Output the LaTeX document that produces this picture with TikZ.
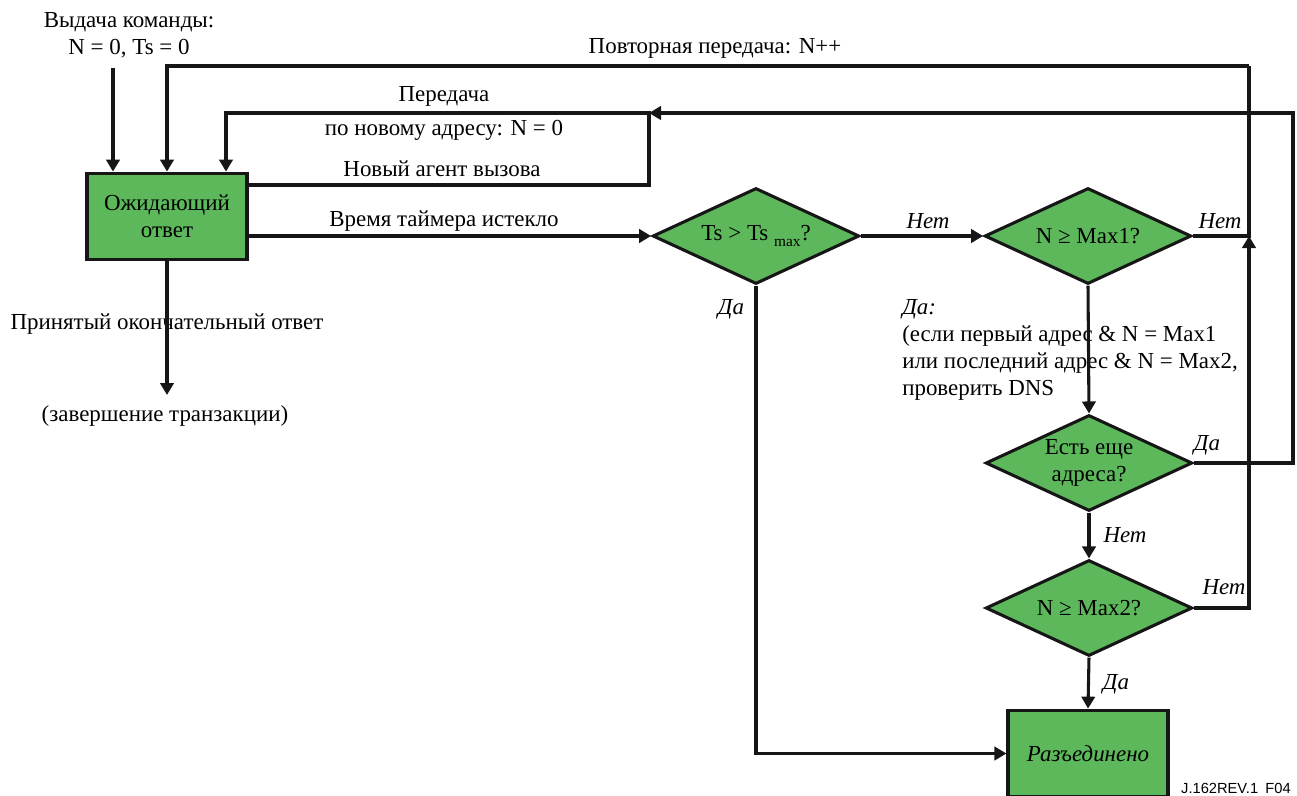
\documentclass[tikz,border=0pt]{standalone}
\usepackage{fontspec}
\setmainfont{Liberation Serif}
\newfontfamily\tagfont{Liberation Sans}
\usepackage{xcolor}
\definecolor{cFill}{HTML}{5CB85B}
\definecolor{cLine}{HTML}{161616}
\usetikzlibrary{positioning,arrows.meta,shapes.geometric,calc}
\newcommand{\lblfont}{\fontsize{17.2}{20.3}\selectfont}
\tikzset{
  node-box/.style={draw=cLine,line width=2.3pt,fill=cFill,minimum width=120pt,
    minimum height=65pt,inner sep=0pt,align=center,font=\lblfont},
  node-dec/.style={diamond,draw=cLine,line width=2.3pt,fill=cFill,aspect=2.15,
    minimum width=155pt,minimum height=72pt,inner sep=0pt,align=center,font=\lblfont},
  node-txt/.style={inner sep=0pt,align=center,font=\lblfont},
  node-yn/.style={inner sep=0pt,font=\lblfont\itshape},
  arrow/.style={-{Triangle[length=9pt,width=10pt]},line width=2.3pt,draw=cLine},
  line/.style={line width=2.3pt,draw=cLine},
}

\begin{document}
\begin{tikzpicture}[x=0.75pt,y=-0.75pt]
  \useasboundingbox (0,0) rectangle (1297,796);
  \clip (0,0) rectangle (1297,796);
  % boxes and decisions
  \node[node-box] (wait) at (167,216.5) {Ожидающий\\ответ};
  \node[node-dec] (ts)   at (756,236) {Ts > Ts \raisebox{-0.5ex}{\fontsize{11.5}{11.5}\selectfont max}?};
  \node[node-dec] (max1) at (1088,236) {N ≥ Max1?};
  \node[node-dec] (more) at (1089,463) {Есть еще\\адреса?};
  \node[node-dec] (max2) at (1089,608) {N ≥ Max2?};
  \node[node-box] (bye)  at (1088,753.5) {\itshape Разъединено};
  % free texts
  \node[node-txt] (cmd)  at (129,35) {Выдача команды:\\N = 0, Ts = 0};
  \node[node-txt] (done) at (167,324) {Принятый окончательный ответ};
  \node[node-txt] (end)  at (165,416) {(завершение транзакции)};
  \node[node-txt] (rep)  at (715,48) {Повторная передача: N++};
  \node[node-txt] (tr1)  at (444,96) {Передача};
  \node[node-txt] (tr2)  at (444,130) {по новому адресу: N = 0};
  \node[node-txt] (nag)  at (442,169) {Новый агент вызова};
  \node[node-txt] (tmo)  at (444,221) {Время таймера истекло};
  \node[node-txt,anchor=north west,align=left] (dns) at (902,299)
    {\textit{Да:}\\(если первый адрес \& N = Max1\\или последний адрес \& N = Max2,\\проверить DNS};
  \node[node-yn] (n1) at (928,221) {Нет};
  \node[node-yn] (n2) at (1220,221) {Нет};
  \node[node-yn] (y1) at (731,309) {Да};
  \node[node-yn] (y2) at (1207,445) {Да};
  \node[node-yn] (n3) at (1125,535) {Нет};
  \node[node-yn] (n4) at (1224,587) {Нет};
  \node[node-yn] (y3) at (1116,684) {Да};
  \node[inner sep=0pt,font=\tagfont\fontsize{11}{11}\selectfont] (tag) at (1236,788) {J.162REV.1\enspace F04};
  % routing points
  \coordinate (start) at (113,68);
  \coordinate (fin)   at (167,395);
  \coordinate (rtR)   at (1249,66);
  \coordinate (rtL)   at (167,66);
  \coordinate (naS)   at (247,185);
  \coordinate (naR)   at (649,113);
  \coordinate (naL)   at (226,113);
  \coordinate (mrR)   at (1293,113);
  % connectors
  \draw[arrow] (start) -- (start |- wait.north);
  \draw[arrow] (wait.south) -- (fin);
  \draw[arrow] (ts.west -| wait.east) -- (ts.west);
  \draw[arrow] (ts.east) -- (max1.west);
  \draw[arrow] (ts.south) |- (bye.west);
  \draw[line]  (max1.east) -| (rtR);
  \draw[arrow] (rtR) -- (rtL) -- (wait.north);
  \draw[arrow] (naS) -| (naR) -- (naL) -- (naL |- wait.north);
  \draw[arrow] (max1.south) -- (more.north);
  \draw[arrow] (more.east) -| (mrR) -- (naR);
  \draw[arrow] (more.south) -- (max2.north);
  \draw[arrow] (max2.east) -| (max1.east -| rtR);
  \draw[arrow] (max2.south) -- (bye.north);
\end{tikzpicture}
\end{document}
